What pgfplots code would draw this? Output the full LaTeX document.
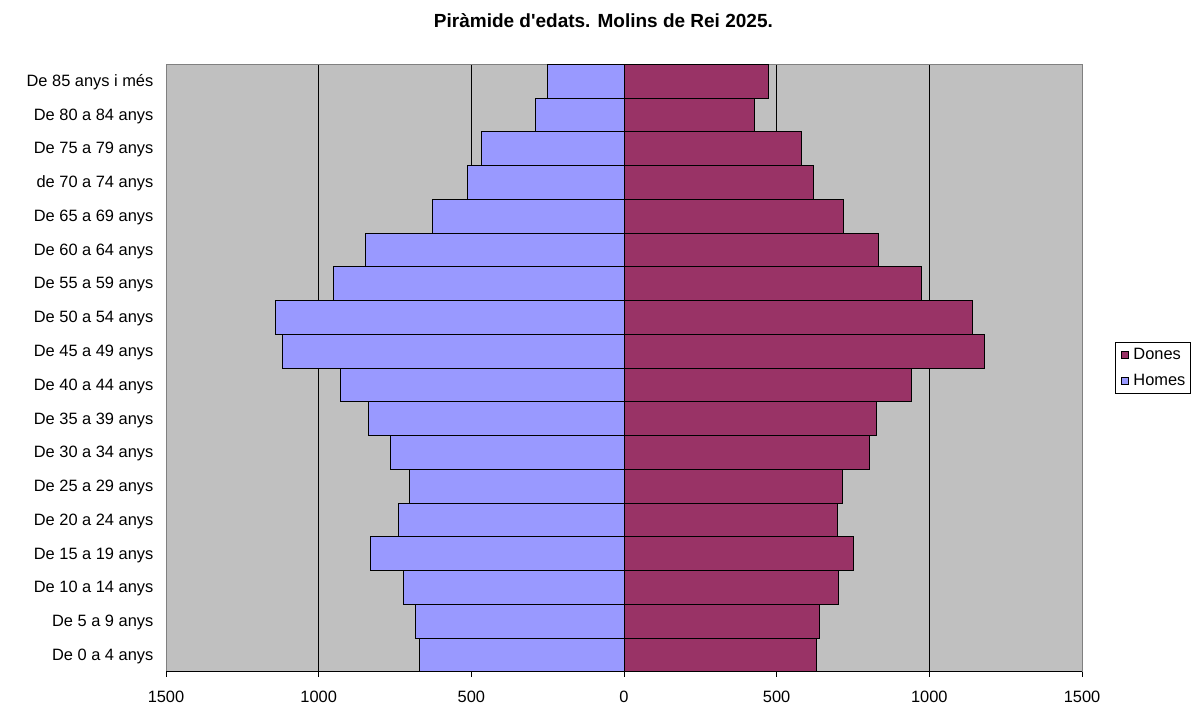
\documentclass[border=0pt]{standalone}
\usepackage{fontspec}
\setmainfont{Liberation Sans}
\usepackage{pgfplots}
\pgfplotsset{compat=1.18}
\definecolor{homes}{HTML}{9999FF}
\definecolor{dones}{HTML}{993366}
\definecolor{bg}{HTML}{C0C0C0}
\definecolor{frame}{HTML}{808080}
\begin{document}
\begin{tikzpicture}[x=1pt,y=1pt]
\useasboundingbox (0,0) rectangle (601,352);
\node[font=\fontsize{9.5}{11}\selectfont\bfseries, anchor=base, inner sep=0pt] at (301.7,338.3) {Piràmide d\textquotesingle edats. Molins de Rei 2025.};
\begin{axis}[
  at={(83pt,16pt)}, anchor=south west,
  scale only axis, width=458pt, height=303.85pt,
  xmin=-1500, xmax=1500, ymin=-0.5, ymax=17.5,
  xtick={-1500,-1000,-500,0,500,1000,1500},
  xticklabels={1500,1000,500,0,500,1000,1500},
  minor xtick={-1000,-500,0,500,1000},
  xminorgrids, minor grid style={black, line width=0.5pt},
  minor tick length=0pt,
  ytick={0,...,17},
  yticklabels={De 0 a 4 anys, De 5 a 9 anys, De 10 a 14 anys, De 15 a 19 anys, De 20 a 24 anys, De 25 a 29 anys, De 30 a 34 anys, De 35 a 39 anys, De 40 a 44 anys, De 45 a 49 anys, De 50 a 54 anys, De 55 a 59 anys, De 60 a 64 anys, De 65 a 69 anys, de 70 a 74 anys, De 75 a 79 anys, De 80 a 84 anys, De 85 anys i més},
  xbar, bar width=1, bar shift=0pt,
  axis background/.style={fill=bg},
  axis line style={draw=frame, line width=0.5pt},
  xtick pos=bottom, tick align=outside, major tick length=2.5pt,
  x tick style={black, line width=0.5pt},
  ytick style={draw=none},
  /pgf/number format/assume math mode=true,
  tick label style={font=\fontsize{8.2}{10}\selectfont},
  xticklabel style={yshift=-3.3pt},
  yticklabel style={xshift=-0.3pt, yshift=-0.6pt},
  legend style={at={(1.036,0.5)}, anchor=west, draw=black, fill=white, line width=0.5pt,
    font=\fontsize{8.2}{10}\selectfont, row sep=3.6pt, inner sep=1.5pt,
    nodes={inner sep=1pt, text height=6pt, text depth=1.5pt}},
  legend cell align=left,
]
\addplot[fill=dones, draw=black, line width=0.5pt,
  legend image code/.code={\path[draw=none,fill=none] (0pt,0pt) -- (6.5pt,0pt); \draw[fill=dones,draw=black,line width=0.4pt] (1.5pt,-1.75pt) rectangle (5pt,1.75pt);}]
  coordinates {(631,0) (639,1) (703,2) (750,3) (700,4) (715,5) (803,6) (826,7) (941,8) (1182,9) (1140,10) (975,11) (833,12) (718,13) (620,14) (581,15) (428,16) (474,17)};
\addplot[fill=homes, draw=black, line width=0.5pt,
  legend image code/.code={\path[draw=none,fill=none] (0pt,0pt) -- (6.5pt,0pt); \draw[fill=homes,draw=black,line width=0.4pt] (1.5pt,-1.75pt) rectangle (5pt,1.75pt);}]
  coordinates {(-669,0) (-684,1) (-723,2) (-830,3) (-738,4) (-704,5) (-765,6) (-837,7) (-929,8) (-1117,9) (-1143,10) (-952,11) (-845,12) (-627,13) (-512,14) (-466,15) (-289,16) (-252,17)};
\legend{Dones, Homes}
\draw[black, line width=0.5pt] (axis cs:-1500,-0.5) -- (axis cs:1500,-0.5);
\end{axis}
\end{tikzpicture}
\end{document}
